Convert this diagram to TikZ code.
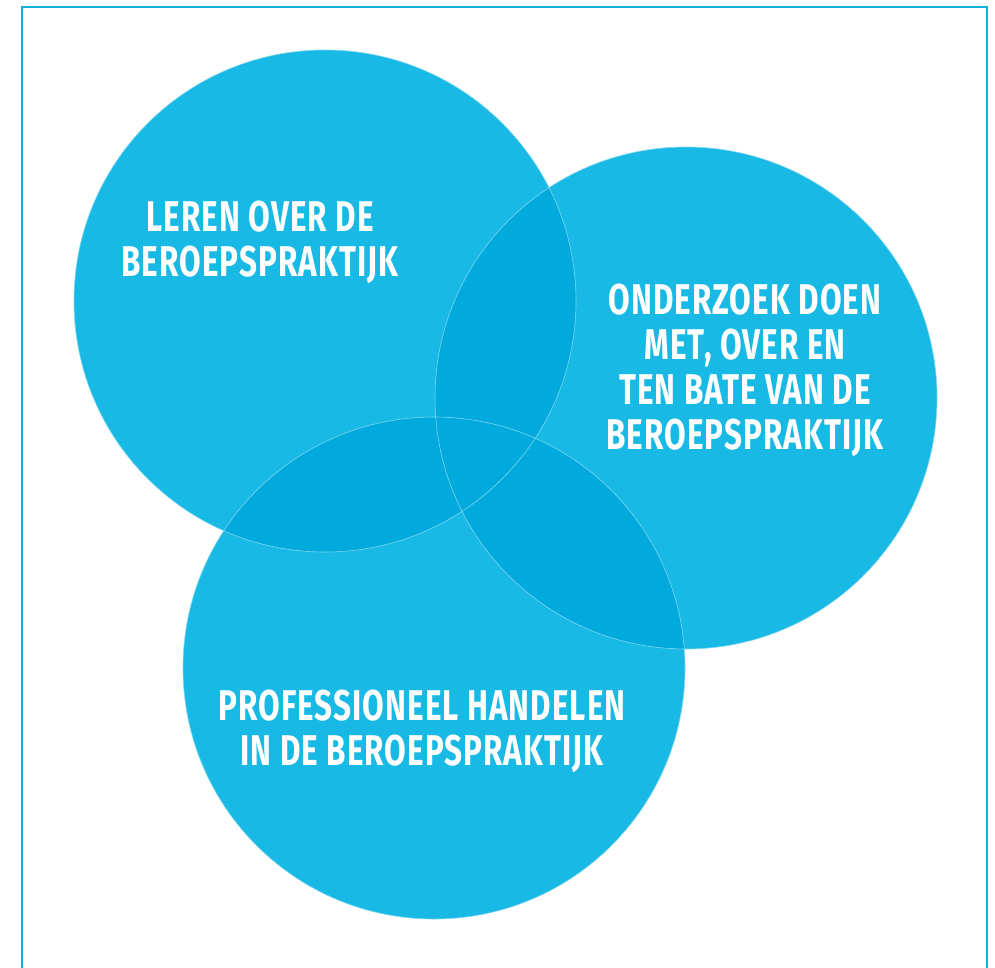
\documentclass[tikz,border=0pt]{standalone}
\usepackage{fontspec}
\setmainfont{Fira Sans}[FakeStretch=0.73, LetterSpace=2.5]
\definecolor{vennblue}{HTML}{19B9E5}
\definecolor{venndark}{HTML}{00AADC}
\definecolor{vennedge}{HTML}{7FD6F0}
\definecolor{framecol}{HTML}{12B0E0}

\begin{document}
\begin{tikzpicture}[x=1pt, y=-1pt,
  venn/.style={fill=vennblue},
  overlap/.style={fill=venndark},
  rim/.style={draw=vennedge, line width=0.6pt},
  vennlabel/.style={text=white, align=center, font=\bfseries\fontsize{43}{45}\selectfont, inner sep=0}]
\useasboundingbox (0,0) rectangle (995,968);
\draw[framecol, line width=2.5pt] (22,975) -- (22,7) -- (987,7) -- (987,975);
\coordinate (leren) at (325,301);
\coordinate (onderzoek) at (686,398);
\coordinate (handelen) at (434,668);
\foreach \c in {leren, onderzoek, handelen} {
 \fill[venn] (\c) circle [radius=251pt];
}
\begin{scope}
 \clip (leren) circle [radius=251pt];
 \fill[overlap] (onderzoek) circle [radius=251pt];
 \fill[overlap] (handelen) circle [radius=251pt];
\end{scope}
\begin{scope}
 \clip (onderzoek) circle [radius=251pt];
 \fill[overlap] (handelen) circle [radius=251pt];
\end{scope}
\foreach \c in {leren, onderzoek, handelen} {
 \draw[rim] (\c) circle [radius=251pt];
}
\node[vennlabel] (lerentext) at (260,242) {LEREN OVER DE\\BEROEPSPRAKTIJK};
\node[vennlabel] (onderzoektext) at (745,370) {ONDERZOEK DOEN\\MET, OVER EN\\TEN BATE VAN DE\\BEROEPSPRAKTIJK};
\node[vennlabel] (handelentext) at (422,731) {PROFESSIONEEL HANDELEN\\IN DE BEROEPSPRAKTIJK};
\end{tikzpicture}
\end{document}
